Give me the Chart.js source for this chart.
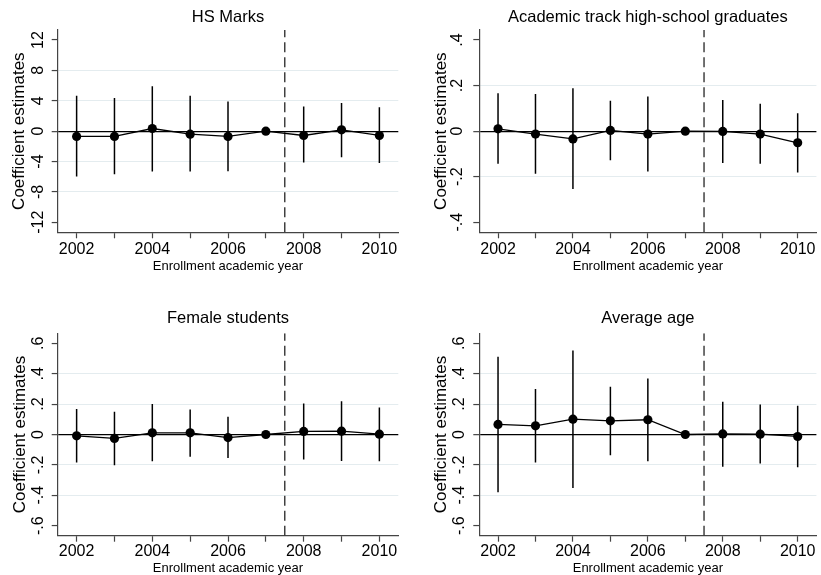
<!DOCTYPE html>
<html><head><meta charset="utf-8">
<script src="https://cdn.jsdelivr.net/npm/chart.js@4/dist/chart.umd.min.js"></script>
<style>
html,body{margin:0;padding:0;background:#fff;}
#wrap{position:relative;width:821px;height:575px;overflow:hidden;background:#fff;}
.pane{position:absolute;}
</style></head><body>
<div id="wrap">
<div class="pane" style="left:0;top:0;width:410px;height:285px"><canvas id="c1" width="410" height="285"></canvas></div>
<div class="pane" style="left:410px;top:0;width:411px;height:285px"><canvas id="c2" width="411" height="285"></canvas></div>
<div class="pane" style="left:0;top:285px;width:410px;height:290px"><canvas id="c3" width="410" height="290"></canvas></div>
<div class="pane" style="left:410px;top:285px;width:411px;height:290px"><canvas id="c4" width="411" height="290"></canvas></div>
</div>
<script>
// ---- data ----
const years = [2002, 2003, 2004, 2005, 2006, 2007, 2008, 2009, 2010];
const xTickLabels = ['2002', '', '2004', '', '2006', '', '2008', '', '2010'];
const cutYear = 2007.5;

const hsEst = [-0.70, -0.70, 0.35, -0.40, -0.70, 0, -0.57, 0.18, -0.57];
const hsLo  = [-5.98, -5.67, -5.30, -5.30, -5.27, 0, -4.13, -3.43, -4.20];
const hsHi  = [4.66, 4.35, 5.90, 4.66, 3.90, 0, 3.25, 3.70, 3.16];
const hsTicks = [-12, -8, -4, 0, 4, 8, 12];
const hsTickLabels = ['-12', '-8', '-4', '0', '4', '8', '12'];
const hsGrid = [-8, -4, 4, 8];

const acEst = [0.010, -0.013, -0.034, 0.003, -0.013, 0, -0.001, -0.013, -0.051];
const acLo  = [-0.143, -0.187, -0.254, -0.128, -0.177, 0, -0.140, -0.143, -0.181];
const acHi  = [0.166, 0.163, 0.188, 0.133, 0.152, 0, 0.137, 0.120, 0.079];
const acTicks = [-0.4, -0.2, 0, 0.2, 0.4];
const acTickLabels = ['-.4', '-.2', '0', '.2', '.4'];
const acGrid = [-0.2, 0.2];

const femEst = [-0.009, -0.026, 0.011, 0.011, -0.020, 0, 0.020, 0.022, 0.002];
const femLo  = [-0.185, -0.202, -0.176, -0.147, -0.154, 0, -0.165, -0.174, -0.176];
const femHi  = [0.167, 0.149, 0.200, 0.165, 0.116, 0, 0.204, 0.218, 0.178];

const ageEst = [0.066, 0.057, 0.101, 0.090, 0.097, 0, 0.004, 0.002, -0.013];
const ageLo  = [-0.380, -0.185, -0.352, -0.136, -0.176, 0, -0.213, -0.191, -0.215];
const ageHi  = [0.512, 0.299, 0.552, 0.314, 0.369, 0, 0.215, 0.198, 0.189];

const sixTicks = [-0.6, -0.4, -0.2, 0, 0.2, 0.4, 0.6];
const sixTickLabels = ['-.6', '-.4', '-.2', '0', '.2', '.4', '.6'];
const sixGrid = [-0.4, -0.2, 0.2, 0.4];

// ---- drawing ----
const FONT = '"Liberation Sans", Arial, Helvetica, sans-serif';
const AXIS = '#444';
const GRID = '#e4ecef';
const near = (a, b) => Math.abs(a - b) < 1e-9;

function makePanel(id, o) {
  const est = years.map((yr, i) => ({x: yr, y: o.est[i]}));
  const ci = [];
  years.forEach((yr, i) => { ci.push({x: yr, y: o.lo[i]}, {x: yr, y: o.hi[i]}, {x: yr, y: null}); });
  new Chart(document.getElementById(id), {
    type: 'line',
    data: {datasets: [
      {data: est, borderColor: '#000', borderWidth: 1.3, pointRadius: 4.6, pointBorderWidth: 0,
       pointBackgroundColor: '#000', tension: 0, order: 0},
      {data: ci, borderColor: '#000', borderWidth: 1.5, pointRadius: 0, spanGaps: false, order: 1},
      {data: [{x: cutYear, y: o.yMin}, {x: cutYear, y: o.yMax}], borderColor: '#333', borderWidth: 1.4,
       borderDash: [10, 5], pointRadius: 0, order: 2}
    ]},
    options: {
      responsive: false, animation: false, events: [],
      layout: {padding: {left: 0, right: o.padRight, top: 0, bottom: o.padBottom}},
      plugins: {
        legend: {display: false}, tooltip: {enabled: false},
        title: {display: true, text: o.title, fullSize: false, color: '#000',
          font: {family: FONT, size: 16.5, weight: 'normal', lineHeight: 1.2},
          padding: {top: o.titleTop, bottom: o.titleBottom}}
      },
      scales: {
        x: {
          type: 'linear', min: 2001.5, max: 2010.5,
          afterBuildTicks: s => { s.ticks = years.map(v => ({value: v})); },
          afterFit: s => { s.height = o.xH; },
          ticks: {autoSkip: false, minRotation: 0, maxRotation: 0, padding: o.xPad, color: '#000',
            font: {family: FONT, size: 16}, callback: (v, i) => xTickLabels[i]},
          grid: {drawOnChartArea: false, drawTicks: true, tickLength: 6, tickColor: AXIS, tickWidth: 1.2},
          border: {display: true, color: AXIS, width: 1.2},
          title: {display: true, text: 'Enrollment academic year', color: '#000',
            font: {family: FONT, size: 13, lineHeight: 1}, padding: {top: 0, bottom: 0}}
        },
        y: {
          type: 'linear', min: o.yMin, max: o.yMax,
          afterBuildTicks: s => { s.ticks = o.yTicks.map(v => ({value: v})); },
          afterFit: s => { s.width = o.yW; },
          ticks: {autoSkip: false, minRotation: 90, maxRotation: 90, crossAlign: 'center', padding: o.yPad,
            color: '#000', font: {family: FONT, size: 16}, callback: (v, i) => o.yLabels[i]},
          grid: {
            color: c => (c.tick && near(c.tick.value, 0)) ? '#000'
                 : (c.tick && o.grid.some(g => near(g, c.tick.value))) ? GRID : 'rgba(0,0,0,0)',
            lineWidth: c => (c.tick && near(c.tick.value, 0)) ? 1.3 : 1.1,
            tickColor: AXIS, tickLength: 6, tickWidth: 1.2
          },
          border: {display: true, color: AXIS, width: 1.2},
          title: {display: true, text: 'Coefficient estimates', color: '#000',
            font: {family: FONT, size: 17, lineHeight: 1.2}, padding: {top: o.yTitlePad, bottom: 0}}
        }
      }
    }
  });
}

makePanel('c1', {title: 'HS Marks', est: hsEst, lo: hsLo, hi: hsHi, yMin: -13.32, yMax: 13.32,
  yTicks: hsTicks, yLabels: hsTickLabels, grid: hsGrid,
  padRight: 11.7, padBottom: 12, xH: 40.7, xPad: 1.2, titleTop: 7.1, titleBottom: 3.1,
  yW: 57.7, yPad: 1.3, yTitlePad: 8.9});
makePanel('c2', {title: 'Academic track high-school graduates', est: acEst, lo: acLo, hi: acHi,
  yMin: -0.444, yMax: 0.444, yTicks: acTicks, yLabels: acTickLabels, grid: acGrid,
  padRight: 0.5, padBottom: 12, xH: 40.7, xPad: 1.2, titleTop: 7.1, titleBottom: 3.1,
  yW: 69.3, yPad: 6.2, yTitlePad: 20.8});
makePanel('c3', {title: 'Female students', est: femEst, lo: femLo, hi: femHi, yMin: -0.666, yMax: 0.666,
  yTicks: sixTicks, yLabels: sixTickLabels, grid: sixGrid,
  padRight: 11.7, padBottom: 0.4, xH: 38.9, xPad: 0, titleTop: 23.4, titleBottom: 5.1,
  yW: 57.7, yPad: 3.6, yTitlePad: 9.8});
makePanel('c4', {title: 'Average age', est: ageEst, lo: ageLo, hi: ageHi, yMin: -0.666, yMax: 0.666,
  yTicks: sixTicks, yLabels: sixTickLabels, grid: sixGrid,
  padRight: 0.5, padBottom: 0.4, xH: 38.9, xPad: 0, titleTop: 23.4, titleBottom: 5.1,
  yW: 69.3, yPad: 4.4, yTitlePad: 21});
</script>
</body></html>
